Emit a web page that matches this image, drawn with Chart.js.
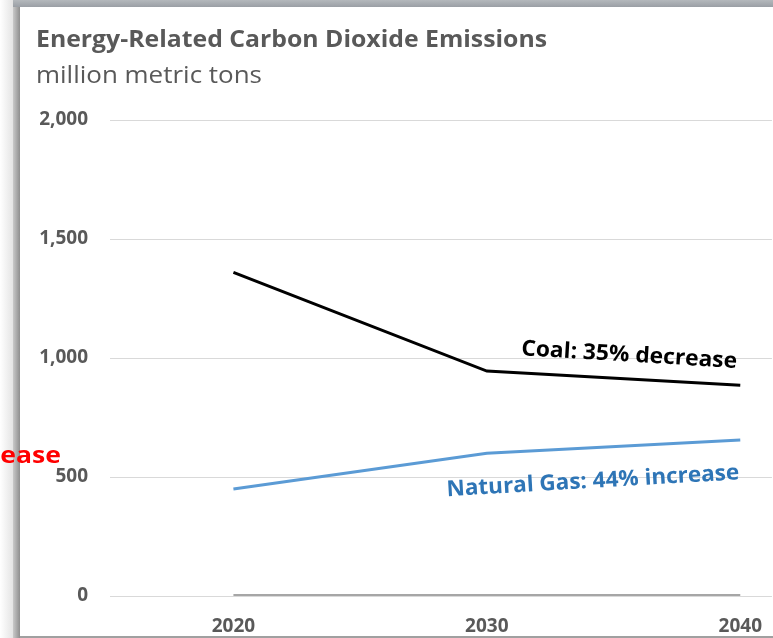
<!DOCTYPE html>
<html>
<head>
<meta charset="utf-8">
<script src="https://cdn.jsdelivr.net/npm/chart.js@4"></script>
<style>
  html, body { margin: 0; padding: 0; background: #fff; }
  #wrap { position: relative; width: 773px; height: 638px; overflow: hidden; }
  .edge-left { position: absolute; left: 0; top: 0; width: 13px; height: 638px;
    background: linear-gradient(to right, #ffffff, #e4e4e4); }
  .bar-left { position: absolute; left: 13px; top: 0; width: 7px; height: 638px;
    background: linear-gradient(to right, #c9c9c9, #8f8f8f); }
  .bar-top { position: absolute; left: 13px; top: 0; right: 0; height: 7px;
    background: linear-gradient(to bottom, #b4b8bc, #9a9fa5); }
  .bar-bottom { position: absolute; left: 20px; right: 0; top: 636px; height: 2px; background: #a0a0a0; }
  canvas { position: absolute; left: 0; top: 0; }
</style>
</head>
<body>
<div id="wrap">
  <div class="edge-left"></div>
  <div class="bar-left"></div>
  <div class="bar-top"></div>
  <div class="bar-bottom"></div>
  <canvas id="chart" width="773" height="638"></canvas>
</div>
<script>
// Data
const years = [2020, 2030, 2040];
const coal = [1360, 945, 885];
const naturalGas = [450, 600, 655];
const baseline = [0, 0, 0];
const yTicks = [0, 500, 1000, 1500, 2000];

const titleText = 'Energy-Related Carbon Dioxide Emissions';
const subtitleText = 'million metric tons';
const coalLabel = 'Coal: 35% decrease';
const gasLabel = 'Natural Gas: 44% increase';
const strayLabel = 'increase';

const FONT = '"Open Sans", "DejaVu Sans", sans-serif';
const GREY_TEXT = '#595959';

function toPoints(values) {
    return years.map((yr, i) => ({ x: yr, y: values[i] }));
}

// draw text squeezed horizontally to a target width (Calibri look-alike)
function drawFitted(ctx, text, x, y, size, weight, targetWidth, color, align, angle) {
    ctx.save();
    ctx.font = weight + ' ' + size + 'px ' + FONT;
    const w = ctx.measureText(text).width;
    const sx = targetWidth / w;
    ctx.translate(x, y);
    if (angle) ctx.rotate(angle * Math.PI / 180);
    ctx.scale(sx, 1);
    ctx.fillStyle = color;
    ctx.textBaseline = 'alphabetic';
    ctx.textAlign = align || 'left';
    ctx.fillText(text, 0, 0);
    ctx.restore();
}

const textPlugin = {
    id: 'textPlugin',
    afterDraw(chart) {
        const ctx = chart.ctx;
        const xs = chart.scales.x;
        const ys = chart.scales.y;

        // Title and subtitle
        drawFitted(ctx, titleText, 36, 47, 24, 'bold', 511, GREY_TEXT, 'left');
        drawFitted(ctx, subtitleText, 36, 83, 23, 'normal', 226, GREY_TEXT, 'left');

        // Series annotations
        drawFitted(ctx, coalLabel, xs.getPixelForValue(2035.6), ys.getPixelForValue(985),
            22, 'bold', 216, '#000000', 'center', 3.4);
        drawFitted(ctx, gasLabel, xs.getPixelForValue(2034.2), ys.getPixelForValue(455),
            22, 'bold', 293, '#2e75b6', 'center', -3.3);

        // Red label cut off at the left edge
        drawFitted(ctx, strayLabel, 61, 463, 23, 'bold', 112, '#ff0000', 'right');
    }
};

const ctx = document.getElementById('chart').getContext('2d');
const emissionsChart = new Chart(ctx, {
    type: 'line',
    data: {
        datasets: [
            {
                label: 'Zero',
                data: toPoints(baseline),
                borderColor: '#a6a6a6',
                borderWidth: 4,
                pointRadius: 0,
                tension: 0
            },
            {
                label: 'Coal',
                data: toPoints(coal),
                borderColor: '#000000',
                borderWidth: 3,
                pointRadius: 0,
                tension: 0
            },
            {
                label: 'Natural Gas',
                data: toPoints(naturalGas),
                borderColor: '#5b9bd5',
                borderWidth: 3,
                pointRadius: 0,
                tension: 0
            }
        ]
    },
    options: {
        responsive: false,
        animation: false,
        layout: {
            padding: { top: 120, right: 0, bottom: 0, left: 0 }
        },
        plugins: {
            legend: { display: false },
            tooltip: { enabled: false },
            title: { display: false }
        },
        scales: {
            x: {
                type: 'linear',
                min: 2015.13,
                max: 2041.25,
                grid: { display: false },
                border: { display: false },
                afterBuildTicks: function(scale) {
                    scale.ticks = years.map(v => ({ value: v }));
                },
                afterFit: function(scale) {
                    scale.height = 42;
                },
                ticks: {
                    autoSkip: false,
                    maxRotation: 0,
                    padding: 11,
                    color: GREY_TEXT,
                    font: { family: FONT, size: 19, weight: 'bold' },
                    callback: function(value) {
                        return String(value);
                    }
                }
            },
            y: {
                min: 0,
                max: 2000,
                grid: { color: '#d9d9d9', lineWidth: 1, drawTicks: false },
                border: { display: false },
                afterBuildTicks: function(scale) {
                    scale.ticks = yTicks.map(v => ({ value: v }));
                },
                afterFit: function(scale) {
                    scale.width = 110;
                },
                ticks: {
                    padding: 22,
                    color: GREY_TEXT,
                    font: { family: FONT, size: 19, weight: 'bold' },
                    callback: function(value) {
                        return value.toLocaleString('en-US');
                    }
                }
            }
        }
    },
    plugins: [textPlugin]
});
</script>
</body>
</html>
